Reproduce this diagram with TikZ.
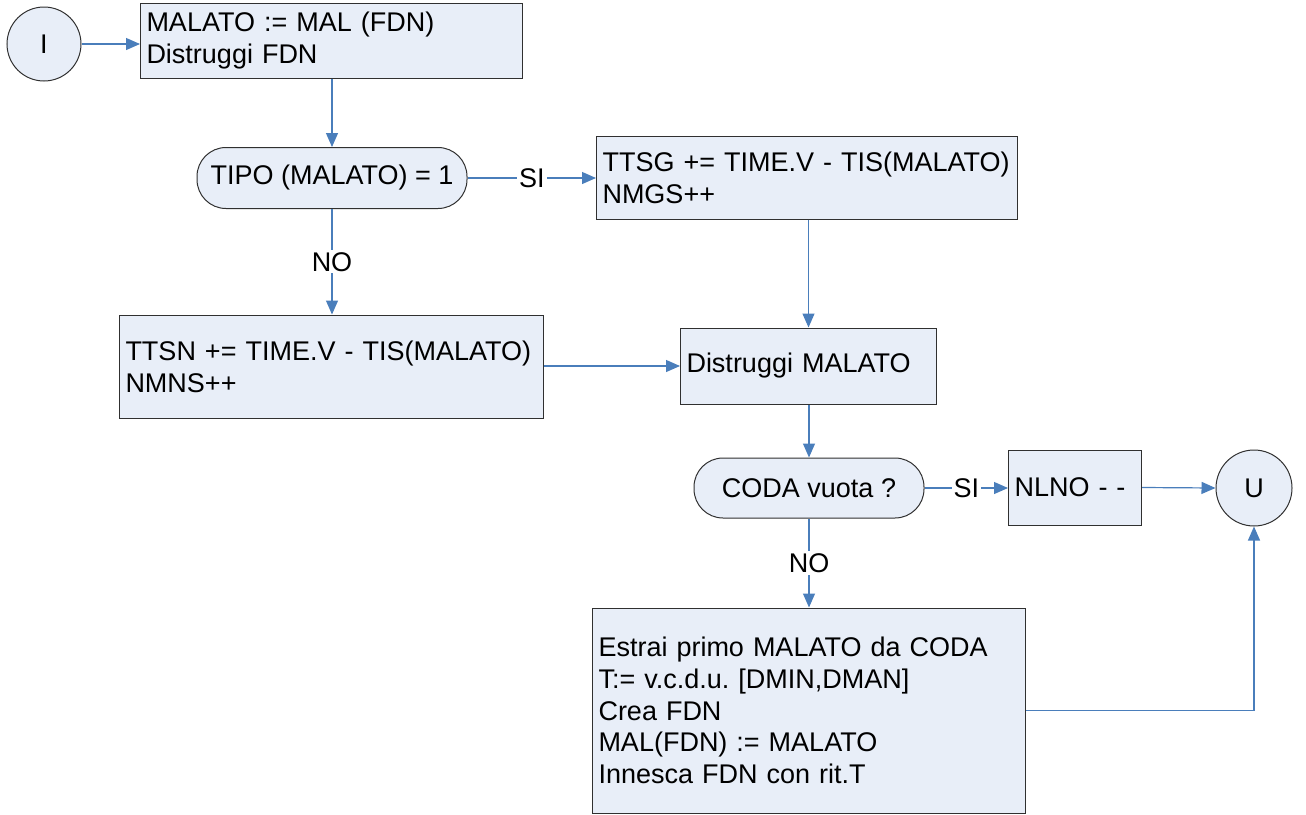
\documentclass[tikz,border=0pt]{standalone}
\usepackage{fontspec}
\setmainfont{Liberation Sans}
\usetikzlibrary{arrows.meta}
\definecolor{fillc}{HTML}{E8EEF8}
\definecolor{linec}{HTML}{4A7EBB}
\definecolor{bordc}{HTML}{303030}
\frenchspacing
\begin{document}
\begin{tikzpicture}[x=1pt,y=1pt,
  txt/.style={font=\fontsize{27}{31.8}\selectfont},
  box/.style={txt,draw=bordc,fill=fillc,line width=1pt,rectangle,inner xsep=6pt,inner ysep=4pt,align=left,text width=#1-11pt,minimum width=#1},
  term/.style={txt,draw=bordc,fill=fillc,line width=1pt,circle,minimum size=#1,inner sep=0pt},
  dec/.style={txt,draw=bordc,fill=fillc,line width=1pt,rectangle,rounded corners=29pt,inner sep=0pt},
  conn/.style={draw=linec,line width=1.2pt,-{Triangle[length=14pt,width=12pt]}},
  lbl/.style={txt,fill=white,inner sep=2pt}
]
\useasboundingbox (0,0) rectangle (1306,-814);

\node[term=74pt] (I) at (44,-44) {I};
\node[box=381pt,minimum height=75pt] (b1) at (331.5,-40.5) {MALATO := MAL (FDN)\\Distruggi FDN};
\node[dec,minimum width=270pt,minimum height=61pt] (tipo) at (332,-178) {TIPO (MALATO) = 1};
\node[box=420pt,minimum height=83pt] (b2) at (807,-177.5) {TTSG += TIME.V - TIS(MALATO)\\NMGS++};
\node[box=423pt,minimum height=103pt] (b3) at (331.5,-366.5) {TTSN += TIME.V - TIS(MALATO)\\NMNS++};
\node[box=255pt,minimum height=76pt] (dm) at (808.5,-366) {Distruggi MALATO};
\node[dec,minimum width=230pt,minimum height=60pt] (coda) at (809,-488) {CODA vuota ?};
\node[box=132pt,minimum height=75pt] (nl) at (1075,-487.5) {NLNO - -};
\node[term=76pt] (U) at (1254,-488) {U};
\node[box=432pt,minimum height=205pt] (b4) at (809,-710.5) {Estrai primo MALATO da CODA\\T:= v.c.d.u. [DMIN,DMAN]\\Crea FDN\\MAL(FDN) := MALATO\\Innesca FDN con rit.T};

\draw[conn] (I) -- (b1.west |- I);
\draw[conn] (b1.south -| tipo.north) -- (tipo.north);
\draw[conn] (tipo.east) -- node[lbl] (si1) {SI} (b2.west |- tipo.east);
\draw[conn] (tipo.south) -- node[lbl] (no1) {NO} (b3.north -| tipo.south);
\draw[conn] (dm.north |- b2.south) -- (dm.north);
\draw[conn] (b3.east |- dm.west) -- (dm.west);
\draw[conn] (dm.south -| coda.north) -- (coda.north);
\draw[conn] (coda.east) -- node[lbl] (si2) {SI} (nl.west |- coda.east);
\draw[conn] (nl.east) -- (U.west);
\draw[conn] (coda.south) -- node[lbl] (no2) {NO} (b4.north -| coda.south);
\draw[conn] (b4.east) -| (U.south);
\end{tikzpicture}
\end{document}
